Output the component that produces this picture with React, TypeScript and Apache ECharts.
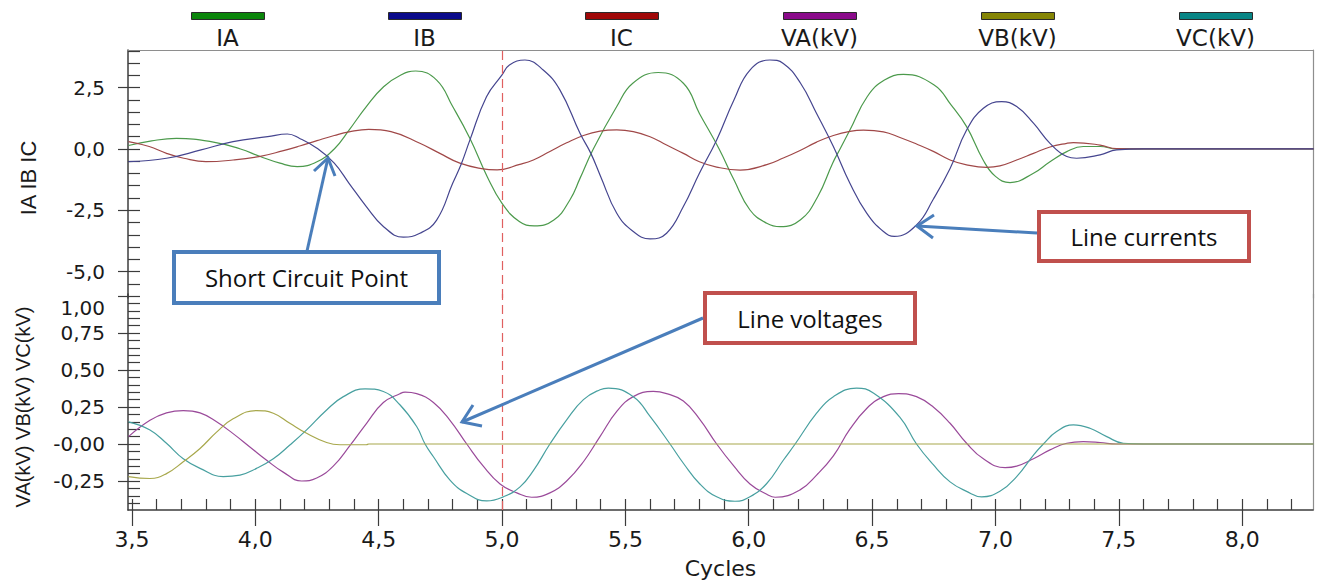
import React, { useEffect, useRef } from 'react';
import * as echarts from 'echarts';

// ---------------- data ----------------
const seriesNames = ['IA', 'IB', 'IC', 'VA(kV)', 'VB(kV)', 'VC(kV)'];
const lineColors = ['#4c9a4c', '#45458f', '#a04848', '#9a4a9a', '#a8a84c', '#48a0a0'];
const legendColors = ['#0b860b', '#0a0a8a', '#a00808', '#8a0a8a', '#858505', '#088585'];

const xTickLabels = [3.5, 4.0, 4.5, 5.0, 5.5, 6.0, 6.5, 7.0, 7.5, 8.0];
const yTopTickLabels = [-5.0, -2.5, 0.0, 2.5];
const yBottomTickLabels = [-0.25, 0.0, 0.25, 0.5, 0.75, 1.0];
const faultCycle = 5.0;

type Pt = [number, number];

const IA: Pt[] = [
  [3.486, 0.14], [3.58, 0.33], [3.68, 0.43], [3.82, 0.3], [3.94, 0.0], [4.02, -0.31], [4.1, -0.58],
  [4.17, -0.72], [4.25, -0.52], [4.32, 0.0], [4.38, 0.77], [4.45, 1.73], [4.52, 2.54], [4.59, 3.02],
  [4.65, 3.18], [4.735, 2.81], [4.8, 1.73], [4.87, 0.43], [4.94, -1.13], [5.0, -2.22], [5.07, -2.96],
  [5.13, -3.14], [5.21, -2.9], [5.275, -2.08], [5.316, -1.2], [5.37, 0.0], [5.465, 1.73], [5.53, 2.68],
  [5.633, 3.12], [5.735, 2.68], [5.8, 1.45], [5.88, 0.0], [5.94, -1.26], [6.005, -2.49], [6.073, -3.03],
  [6.127, -3.17], [6.21, -2.89], [6.28, -1.94], [6.34, -0.58], [6.37, 0.0], [6.41, 0.77], [6.48, 2.13],
  [6.55, 2.81], [6.627, 3.04], [6.75, 2.62], [6.82, 1.8], [6.883, 0.91], [6.95, -0.45], [7.0, -1.12],
  [7.059, -1.37], [7.154, -0.99], [7.221, -0.52], [7.289, -0.11], [7.356, 0.1], [7.424, 0.1],
  [7.491, 0.0], [7.6, 0.0], [8.29, 0.0],
];

const IB: Pt[] = [
  [3.486, -0.52], [3.64, -0.38], [3.78, -0.04], [3.91, 0.3], [4.05, 0.5], [4.13, 0.61], [4.18, 0.43],
  [4.25, 0.03], [4.32, -0.58], [4.38, -1.4], [4.45, -2.35], [4.52, -3.17], [4.6, -3.6], [4.667, -3.44],
  [4.735, -2.9], [4.8, -1.4], [4.836, -0.58], [4.87, 0.37], [4.937, 2.13], [5.0, 3.02], [5.03, 3.43],
  [5.093, 3.63], [5.167, 3.22], [5.235, 2.4], [5.316, 0.64], [5.36, -0.18], [5.4, -1.13], [5.465, -2.62],
  [5.532, -3.37], [5.6, -3.67], [5.667, -3.44], [5.735, -2.35], [5.8, -0.99], [5.87, 0.37], [5.94, 2.0],
  [6.005, 3.22], [6.086, 3.63], [6.14, 3.49], [6.21, 2.68], [6.275, 1.45], [6.343, 0.1], [6.41, -1.4],
  [6.478, -2.62], [6.546, -3.37], [6.59, -3.57], [6.68, -3.1], [6.748, -2.05], [6.816, -0.8],
  [6.883, 0.77], [6.951, 1.66], [7.025, 1.93], [7.086, 1.73], [7.154, 1.05], [7.221, 0.23],
  [7.289, -0.31], [7.329, -0.38], [7.424, -0.24], [7.491, -0.04], [7.6, 0.0], [8.29, 0.0],
];

const IC: Pt[] = [
  [3.486, 0.3], [3.57, 0.1], [3.64, -0.18], [3.71, -0.38], [3.8, -0.52], [3.91, -0.45], [4.02, -0.3],
  [4.11, -0.08], [4.18, 0.12], [4.25, 0.34], [4.32, 0.55], [4.38, 0.7], [4.46, 0.8], [4.55, 0.71],
  [4.667, 0.23], [4.748, -0.18], [4.829, -0.58], [4.917, -0.8], [4.98, -0.85], [5.072, -0.63],
  [5.127, -0.45], [5.194, -0.1], [5.262, 0.25], [5.33, 0.55], [5.397, 0.73], [5.465, 0.78], [5.532, 0.71],
  [5.6, 0.5], [5.667, 0.16], [5.735, -0.18], [5.8, -0.52], [5.87, -0.74], [5.965, -0.86], [6.073, -0.64],
  [6.14, -0.37], [6.21, -0.05], [6.275, 0.28], [6.343, 0.55], [6.41, 0.72], [6.465, 0.77], [6.546, 0.7],
  [6.613, 0.47], [6.68, 0.2], [6.748, -0.1], [6.816, -0.45], [6.883, -0.65], [6.964, -0.75],
  [7.018, -0.69], [7.086, -0.45], [7.154, -0.18], [7.221, 0.08], [7.289, 0.23], [7.316, 0.26],
  [7.424, 0.16], [7.491, 0.01], [7.6, 0.0], [8.29, 0.0],
];

const VA: Pt[] = [
  [3.486, 0.05], [3.573, 0.16], [3.64, 0.21], [3.708, 0.226], [3.776, 0.21], [3.843, 0.15], [3.91, 0.07],
  [3.978, -0.02], [4.046, -0.11], [4.113, -0.19], [4.188, -0.25], [4.249, -0.23], [4.316, -0.15],
  [4.384, -0.01], [4.451, 0.14], [4.519, 0.28], [4.586, 0.34], [4.607, 0.35], [4.654, 0.34], [4.722, 0.28],
  [4.789, 0.16], [4.857, 0.0], [4.924, -0.15], [4.992, -0.27], [5.06, -0.33], [5.12, -0.36], [5.194, -0.33],
  [5.262, -0.25], [5.33, -0.12], [5.397, 0.05], [5.465, 0.22], [5.532, 0.32], [5.613, 0.355],
  [5.667, 0.34], [5.735, 0.29], [5.8, 0.17], [5.87, 0.0], [5.94, -0.15], [6.005, -0.27], [6.073, -0.34],
  [6.107, -0.36], [6.208, -0.31], [6.275, -0.21], [6.343, -0.08], [6.41, 0.1], [6.478, 0.24],
  [6.546, 0.32], [6.607, 0.34], [6.68, 0.32], [6.748, 0.25], [6.816, 0.14], [6.883, 0.005], [6.951, -0.1],
  [7.039, -0.16], [7.086, -0.15], [7.154, -0.1], [7.221, -0.04], [7.289, 0.005], [7.356, 0.016],
  [7.424, 0.01], [7.491, 0.0], [7.6, 0.0], [8.29, 0.0],
];

const VB: Pt[] = [
  [3.486, -0.22], [3.573, -0.233], [3.64, -0.2], [3.708, -0.12], [3.776, -0.03], [3.843, 0.08],
  [3.91, 0.17], [4.005, 0.226], [4.073, 0.208], [4.14, 0.14], [4.208, 0.072], [4.289, 0.01],
  [4.343, -0.005], [4.45, -0.005], [4.46, 0.0], [8.29, 0.0],
];

const VC: Pt[] = [
  [3.486, 0.15], [3.573, 0.095], [3.64, 0.005], [3.708, -0.1], [3.776, -0.165], [3.87, -0.22],
  [3.938, -0.21], [4.005, -0.165], [4.073, -0.1], [4.14, -0.007], [4.208, 0.095], [4.289, 0.23],
  [4.357, 0.32], [4.445, 0.373], [4.519, 0.355], [4.586, 0.265], [4.654, 0.118], [4.688, 0.0],
  [4.722, -0.086], [4.789, -0.244], [4.857, -0.335], [4.938, -0.385], [5.005, -0.357], [5.073, -0.29],
  [5.127, -0.18], [5.194, 0.0], [5.262, 0.163], [5.33, 0.3], [5.397, 0.367], [5.431, 0.378], [5.532, 0.32],
  [5.6, 0.186], [5.681, 0.0], [5.735, -0.13], [5.8, -0.267], [5.87, -0.357], [5.944, -0.387],
  [6.005, -0.357], [6.073, -0.267], [6.14, -0.11], [6.188, 0.0], [6.275, 0.208], [6.343, 0.32],
  [6.437, 0.378], [6.505, 0.344], [6.613, 0.18], [6.68, 0.0], [6.748, -0.14], [6.816, -0.256],
  [6.883, -0.32], [6.944, -0.357], [7.018, -0.32], [7.086, -0.22], [7.154, -0.075], [7.194, 0.0],
  [7.248, 0.084], [7.316, 0.129], [7.383, 0.106], [7.451, 0.05], [7.518, 0.005], [7.6, 0.0], [8.29, 0.0],
];

// ---------------- layout / style ----------------
const X_MIN = 3.484;
const X_MAX = 8.287;
const Y_TOP_MIN = -6.08;
const Y_TOP_MAX = 4.037;
const Y_BOT_MIN = -0.446;
const Y_BOT_MAX = 1.0135;

const AXIS_C = '#3c3c3c';
const BORDER_C = '#8e8e8e';
const TEXT_C = '#1a1a1a';
const NOTE_BLUE = '#4a7ebb';
const NOTE_RED = '#c0504d';
const FONT_AXIS = "'DejaVu Sans', sans-serif";
const FONT_TITLE = "'Liberation Sans', Arial, sans-serif";
const FONT_NOTE = "'Open Sans', 'Noto Sans', sans-serif";

function steps(a: number, b: number, s: number): number[] {
  const out: number[] = [];
  const n = Math.round((b - a) / s);
  for (let i = 0; i <= n; i++) out.push(Number((a + i * s).toFixed(4)));
  return out;
}

const xMinorTicks = steps(3.5, 8.2, 0.1);
const yTopMinorTicks = steps(-5.5, 4.0, 0.5);
const yBotMinorTicks = steps(-0.4, 1.0, 0.05);

const comma = (v: number, d: number) => v.toFixed(d).replace('.', ',');

const legendLefts = [191, 388, 585, 783, 981, 1179];
const LEGEND_W = 73;

function buildOption(): any {
  const mkSeries = (i: number, data: Pt[], xi: number, yi: number, extra: any = {}) => ({
    name: seriesNames[i],
    type: 'line',
    data,
    xAxisIndex: xi,
    yAxisIndex: yi,
    showSymbol: false,
    symbol: 'none',
    smooth: 0.45,
    silent: true,
    lineStyle: { color: lineColors[i], width: 1.2 },
    itemStyle: { color: lineColors[i] },
    ...extra,
  });

  const faultLine = {
    silent: true,
    symbol: ['none', 'none'],
    label: { show: false },
    lineStyle: { color: '#e06060', width: 1.2, type: [9, 5] },
    data: [{ xAxis: faultCycle }],
  };

  const hiddenAxisBits = { axisLabel: { show: false }, splitLine: { show: false } };

  const legends = seriesNames.map((name, i) => ({
    left: legendLefts[i],
    top: 12,
    padding: 0,
    itemWidth: LEGEND_W,
    itemHeight: 7,
    icon: 'rect',
    selectedMode: false,
    formatter: () => '',
    textStyle: { fontSize: 1 },
    data: [{ name, itemStyle: { color: legendColors[i], borderColor: '#2a2a2a', borderWidth: 1 } }],
  }));

  const legendLabels = seriesNames.map((name, i) => ({
    type: 'text',
    x: legendLefts[i] + LEGEND_W / 2,
    y: 38,
    z: 100,
    style: {
      text: name,
      align: 'center',
      verticalAlign: 'middle',
      fontSize: 23,
      fontFamily: FONT_AXIS,
      fill: TEXT_C,
    },
  }));

  const noteBox = (x: number, y: number, w: number, h: number, color: string, text: string) => [
    {
      type: 'rect',
      z: 100,
      shape: { x, y, width: w, height: h },
      style: { fill: '#ffffff', stroke: color, lineWidth: 4 },
    },
    {
      type: 'text',
      z: 101,
      x: x + w / 2,
      y: y + h / 2,
      style: {
        text,
        align: 'center',
        verticalAlign: 'middle',
        fontSize: 24,
        fontFamily: FONT_NOTE,
        fill: '#111111',
      },
    },
  ];

  const arrow = (from: number[], tip: number[], arm1: number[], arm2: number[]) => [
    {
      type: 'line',
      z: 102,
      shape: { x1: from[0], y1: from[1], x2: tip[0], y2: tip[1] },
      style: { stroke: NOTE_BLUE, lineWidth: 3 },
    },
    {
      type: 'polyline',
      z: 102,
      shape: { points: [arm1, tip, arm2] },
      style: { stroke: NOTE_BLUE, lineWidth: 3, fill: 'none' },
    },
  ];

  return {
    animation: false,
    backgroundColor: '#ffffff',
    legend: legends,
    grid: [
      { left: 128, top: 50, width: 1185, height: 248 },
      { left: 128, top: 294, width: 1185, height: 216 },
    ],
    xAxis: [
      {
        gridIndex: 0, type: 'value', min: X_MIN, max: X_MAX, position: 'top',
        axisLine: { show: true, onZero: false, lineStyle: { color: BORDER_C, width: 1.2 } },
        axisTick: { show: false },
        ...hiddenAxisBits,
      },
      {
        gridIndex: 1, type: 'value', min: X_MIN, max: X_MAX, position: 'bottom',
        axisLine: { show: true, onZero: false, lineStyle: { color: AXIS_C, width: 1.5 } },
        axisTick: { show: true, inside: false, length: 16, customValues: xTickLabels, lineStyle: { color: AXIS_C, width: 1.2 } },
        axisLabel: {
          show: true, customValues: xTickLabels, margin: 18,
          formatter: (v: number) => comma(v, 1),
          fontSize: 22, fontFamily: FONT_AXIS, color: TEXT_C,
        },
        splitLine: { show: false },
        name: 'Cycles', nameLocation: 'middle', nameGap: 47,
        nameTextStyle: { fontSize: 22, fontFamily: FONT_AXIS, color: TEXT_C },
      },
      {
        gridIndex: 1, type: 'value', min: X_MIN, max: X_MAX, position: 'bottom',
        axisLine: { show: false, onZero: false },
        axisTick: { show: true, inside: true, length: 11, customValues: xMinorTicks, lineStyle: { color: AXIS_C, width: 1.2 } },
        ...hiddenAxisBits,
      },
    ],
    yAxis: [
      {
        gridIndex: 0, type: 'value', min: Y_TOP_MIN, max: Y_TOP_MAX, position: 'left',
        axisLine: { show: true, onZero: false, lineStyle: { color: AXIS_C, width: 1.5 } },
        axisTick: { show: true, inside: false, length: 10, customValues: yTopTickLabels, lineStyle: { color: AXIS_C, width: 1.2 } },
        axisLabel: {
          show: true, customValues: yTopTickLabels, margin: 23,
          formatter: (v: number) => comma(v, 1),
          fontSize: 20, fontFamily: FONT_AXIS, color: TEXT_C,
        },
        splitLine: { show: false },
      },
      {
        gridIndex: 0, type: 'value', min: Y_TOP_MIN, max: Y_TOP_MAX, position: 'left',
        axisLine: { show: false, onZero: false },
        axisTick: { show: true, inside: true, length: 12, customValues: yTopMinorTicks, lineStyle: { color: AXIS_C, width: 1.2 } },
        ...hiddenAxisBits,
      },
      {
        gridIndex: 0, type: 'value', min: Y_TOP_MIN, max: Y_TOP_MAX, position: 'right',
        axisLine: { show: true, onZero: false, lineStyle: { color: BORDER_C, width: 1.2 } },
        axisTick: { show: false },
        ...hiddenAxisBits,
      },
      {
        gridIndex: 1, type: 'value', min: Y_BOT_MIN, max: Y_BOT_MAX, position: 'left',
        axisLine: { show: true, onZero: false, lineStyle: { color: AXIS_C, width: 1.5 } },
        axisTick: { show: true, inside: false, length: 10, customValues: yBottomTickLabels, lineStyle: { color: AXIS_C, width: 1.2 } },
        axisLabel: {
          show: true, customValues: yBottomTickLabels, margin: 23, lineHeight: 24,
          formatter: (v: number) => (v === 0 ? '-0,00' : v === 1 ? '\n1,00' : comma(v, 2)),
          fontSize: 20, fontFamily: FONT_AXIS, color: TEXT_C,
        },
        splitLine: { show: false },
      },
      {
        gridIndex: 1, type: 'value', min: Y_BOT_MIN, max: Y_BOT_MAX, position: 'left',
        axisLine: { show: false, onZero: false },
        axisTick: { show: true, inside: true, length: 12, customValues: yBotMinorTicks, lineStyle: { color: AXIS_C, width: 1.2 } },
        ...hiddenAxisBits,
      },
      {
        gridIndex: 1, type: 'value', min: Y_BOT_MIN, max: Y_BOT_MAX, position: 'right',
        axisLine: { show: true, onZero: false, lineStyle: { color: BORDER_C, width: 1.2 } },
        axisTick: { show: false },
        ...hiddenAxisBits,
      },
    ],
    series: [
      mkSeries(0, IA, 0, 0, { markLine: faultLine }),
      mkSeries(2, IC, 0, 0),
      mkSeries(1, IB, 0, 0),
      mkSeries(3, VA, 1, 3, { markLine: faultLine }),
      mkSeries(5, VC, 1, 3),
      mkSeries(4, VB, 1, 3),
    ],
    graphic: [
      ...legendLabels,
      {
        type: 'text', x: 28, y: 178, rotation: Math.PI / 2, z: 100,
        style: { text: 'IA IB IC', align: 'center', verticalAlign: 'middle', fontSize: 22, fontFamily: FONT_TITLE, fill: TEXT_C },
      },
      {
        type: 'text', x: 23, y: 407, rotation: Math.PI / 2, z: 100,
        style: { text: 'VA(kV) VB(kV) VC(kV)', align: 'center', verticalAlign: 'middle', fontSize: 20, fontFamily: FONT_TITLE, fill: TEXT_C },
      },
      ...noteBox(174, 252, 265, 51, NOTE_BLUE, 'Short Circuit Point'),
      ...noteBox(1039, 212, 210, 49, NOTE_RED, 'Line currents'),
      ...noteBox(705, 293, 210, 50, NOTE_RED, 'Line voltages'),
      ...arrow([307, 251], [328, 158], [314, 171], [335, 176]),
      ...arrow([1037, 233], [917, 226], [934, 215], [933, 238]),
      ...arrow([703, 318], [462, 422], [473, 405], [482, 426]),
    ],
  };
}

export default function App() {
  const ref = useRef<HTMLDivElement | null>(null);
  useEffect(() => {
    if (!ref.current) return;
    const chart = echarts.init(ref.current, undefined, { renderer: 'svg' });
    chart.setOption(buildOption());
    return () => chart.dispose();
  }, []);
  return (
    <div
      ref={ref}
      style={{ position: 'absolute', left: 0, top: 0, width: 1319, height: 586, background: '#fff' }}
    />
  );
}
